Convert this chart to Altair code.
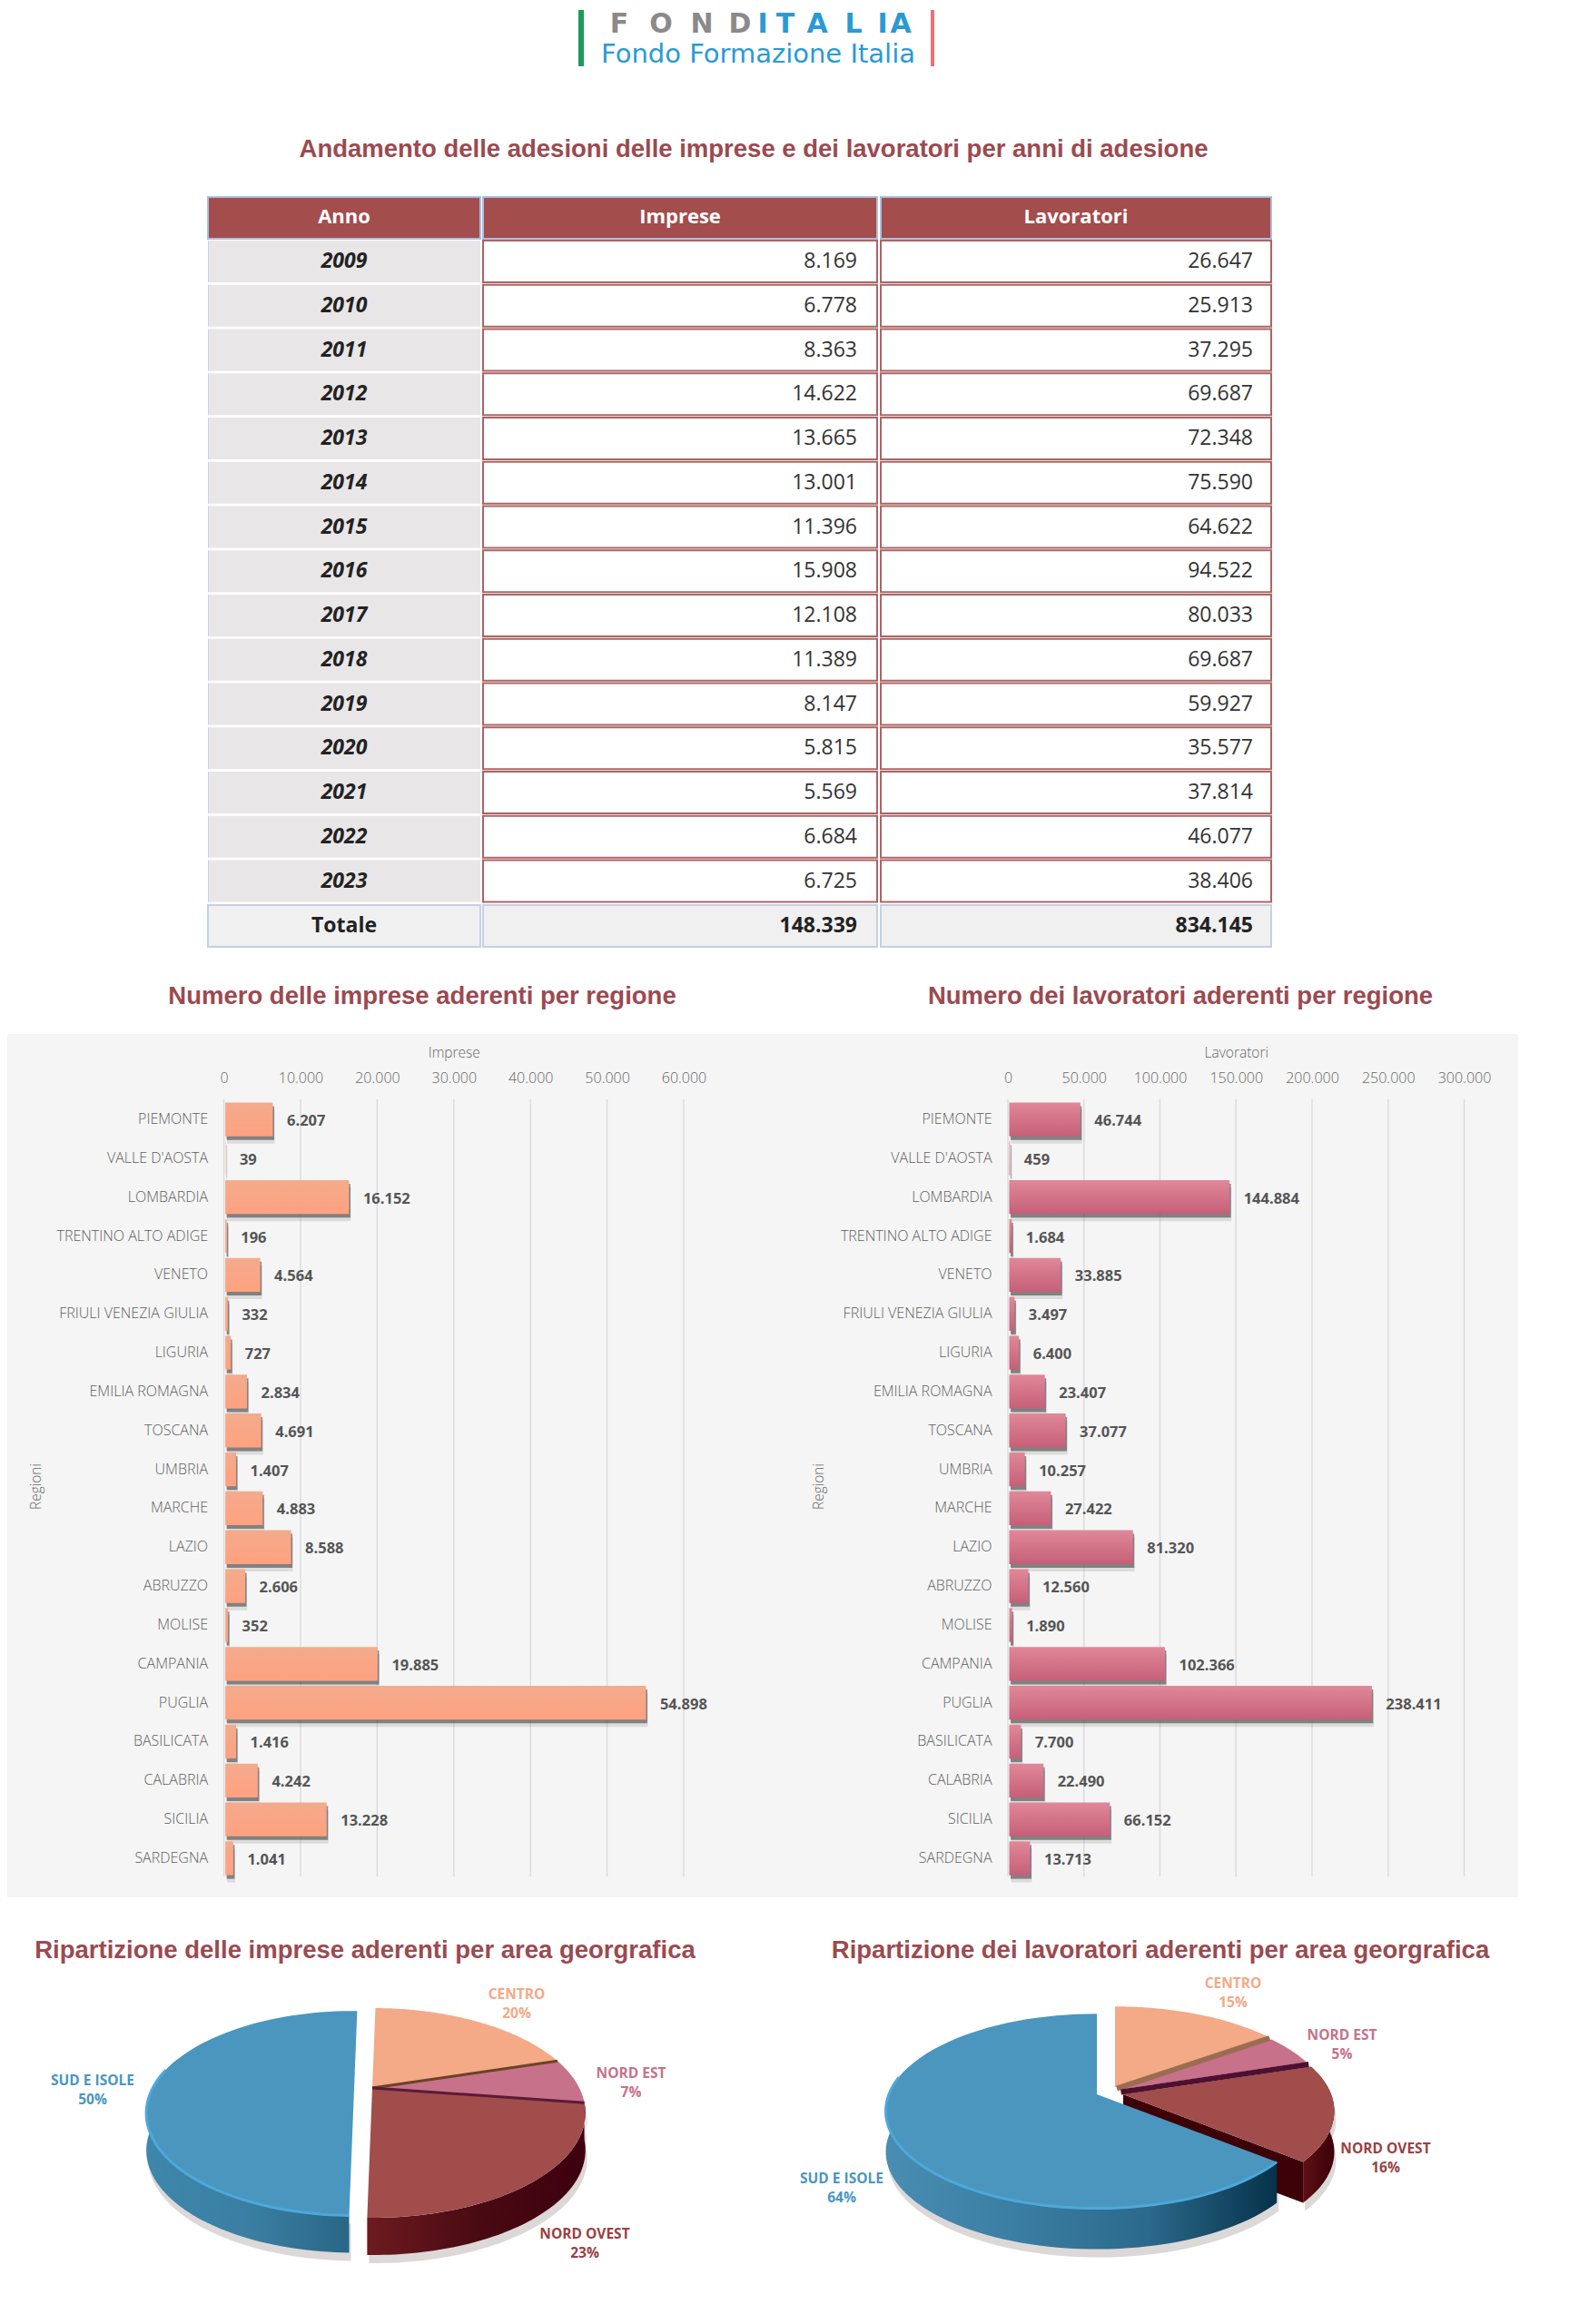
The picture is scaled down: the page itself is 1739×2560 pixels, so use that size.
import math
import altair as alt
import pandas as pd

# ---------- data ----------
ANNI = [2009, 2010, 2011, 2012, 2013, 2014, 2015, 2016, 2017, 2018, 2019, 2020, 2021, 2022, 2023]
IMPRESE_ANNO = [8169, 6778, 8363, 14622, 13665, 13001, 11396, 15908, 12108, 11389, 8147, 5815, 5569, 6684, 6725]
LAVORATORI_ANNO = [26647, 25913, 37295, 69687, 72348, 75590, 64622, 94522, 80033, 69687, 59927, 35577, 37814, 46077, 38406]
TOTALE = ["Totale", 148339, 834145]
REGIONI = ["PIEMONTE", "VALLE D'AOSTA", "LOMBARDIA", "TRENTINO ALTO ADIGE", "VENETO", "FRIULI VENEZIA GIULIA",
           "LIGURIA", "EMILIA ROMAGNA", "TOSCANA", "UMBRIA", "MARCHE", "LAZIO", "ABRUZZO", "MOLISE", "CAMPANIA",
           "PUGLIA", "BASILICATA", "CALABRIA", "SICILIA", "SARDEGNA"]
IMPRESE_REG = [6207, 39, 16152, 196, 4564, 332, 727, 2834, 4691, 1407, 4883, 8588, 2606, 352, 19885, 54898, 1416, 4242, 13228, 1041]
LAVORATORI_REG = [46744, 459, 144884, 1684, 33885, 3497, 6400, 23407, 37077, 10257, 27422, 81320, 12560, 1890, 102366, 238411, 7700, 22490, 66152, 13713]
AREE = ["CENTRO", "NORD EST", "NORD OVEST", "SUD E ISOLE"]
QUOTE_IMPRESE = [20, 7, 23, 50]
QUOTE_LAVORATORI = [15, 5, 16, 64]

TITLE_FONT = "Liberation Sans"
BODY_FONT = "Open Sans"
TITLE_COLOR = "#9b4a50"
TITLE_SIZE = 27.5


def it(n):
    return f"{n:,}".replace(",", ".")


def pxx(a, b):
    return alt.Scale(domain=[a, b], range=[0, b - a], nice=False, zero=False)


def pxy(a, b):
    return alt.Scale(domain=[a, b], range=[0, b - a], nice=False, zero=False)


def text_layer(rows, xs, ys, **mark):
    df = pd.DataFrame(rows, columns=["x", "y", "t"])
    mark.setdefault("font", BODY_FONT)
    mark.setdefault("baseline", "middle")
    return alt.Chart(df).mark_text(**mark).encode(
        x=alt.X("x:Q", scale=xs, axis=None), y=alt.Y("y:Q", scale=ys, axis=None), text="t:N")


# ---------- header + table ----------
HX, HY = pxx(8, 1731), pxy(8, 1139)
COLS = [(229, 529), (532, 966), (970, 1400)]
RIGHT = [None, 944, 1380]
ROW0, STEP, ROWH = 265, 48.75, 46


def rects(cells, **mark):
    df = pd.DataFrame(cells, columns=["x0", "x1", "y0", "y1"])
    return alt.Chart(df).mark_rect(**mark).encode(
        x=alt.X("x0:Q", scale=HX, axis=None), x2="x1:Q",
        y=alt.Y("y0:Q", scale=HY, axis=None), y2="y1:Q")


rows_y = [(ROW0 + i * STEP, ROW0 + i * STEP + ROWH) for i in range(len(ANNI))]
table = [
    rects([(c[0], c[1], 217, 263) for c in COLS], fill="#a34d4d", stroke="#a9c0e0", strokeWidth=2),
    rects([(COLS[0][0], COLS[0][1], a, b) for a, b in rows_y], fill="#e8e6e7"),
    rects([(COLS[0][0], COLS[0][0] + 1, a, b) for a, b in rows_y], fill="#c5d3ea"),
    rects([(c[0], c[1], a, b) for c in COLS[1:] for a, b in rows_y], fill="#ffffff", stroke="#ad6464", strokeWidth=2),
    rects([(c[0], c[1], 997, 1043) for c in COLS], fill="#f0f0f0", stroke="#c5d0e3", strokeWidth=2),
]
centers = [sum(c) / 2 for c in COLS]
header_texts = [
    text_layer([(centers[i], 238.5, n) for i, n in enumerate(["Anno", "Imprese", "Lavoratori"])], HX, HY,
               fontSize=22, fontWeight="bold", color="#ffffff", align="center"),
    text_layer([(centers[0], (a + b) / 2, str(y)) for y, (a, b) in zip(ANNI, rows_y)], HX, HY,
               fontSize=23, fontWeight="bold", fontStyle="italic", color="#222222", align="center"),
    text_layer([(RIGHT[1], (a + b) / 2, it(v)) for v, (a, b) in zip(IMPRESE_ANNO, rows_y)]
               + [(RIGHT[2], (a + b) / 2, it(v)) for v, (a, b) in zip(LAVORATORI_ANNO, rows_y)], HX, HY,
               fontSize=23, color="#333333", align="right"),
    text_layer([(centers[0], 1020, TOTALE[0])], HX, HY, fontSize=23, fontWeight="bold", color="#222222", align="center"),
    text_layer([(RIGHT[1], 1020, it(TOTALE[1])), (RIGHT[2], 1020, it(TOTALE[2]))], HX, HY,
               fontSize=23, fontWeight="bold", color="#222222", align="right"),
    text_layer([(830, 165, "Andamento delle adesioni delle imprese e dei lavoratori per anni di adesione")], HX, HY,
               font=TITLE_FONT, fontSize=TITLE_SIZE, fontWeight="bold", color=TITLE_COLOR, align="center"),
    text_layer([(465, 1097.5, "Numero delle imprese aderenti per regione")], HX, HY,
               font=TITLE_FONT, fontSize=TITLE_SIZE, fontWeight="bold", color=TITLE_COLOR, align="center"),
    text_layer([(1300, 1097.5, "Numero dei lavoratori aderenti per regione")], HX, HY,
               font=TITLE_FONT, fontSize=TITLE_SIZE, fontWeight="bold", color=TITLE_COLOR, align="center"),
]
LOGO_GREY = list(zip([682, 728, 773, 815], "FOND"))
LOGO_BLUE = list(zip([840, 865, 900, 940, 972, 992], "ITALIA"))
logo = [
    rects([(637, 643, 11, 73)], fill="#1f9a5b"),
    rects([(1025, 1029, 11, 73)], fill="#ec6f72"),
    text_layer([(x, 27, c) for x, c in LOGO_GREY], HX, HY, font="DejaVu Sans", fontWeight="bold", fontSize=30,
               color="#8a8a8a", align="center"),
    text_layer([(x, 27, c) for x, c in LOGO_BLUE], HX, HY, font="DejaVu Sans", fontWeight="bold", fontSize=30,
               color="#2a9ad4", align="center"),
    text_layer([(835, 60, "Fondo Formazione Italia")], HX, HY, font="DejaVu Sans", fontSize=29,
               color="#2a9ad4", align="center"),
]
header = alt.layer(*logo, *table, *header_texts).properties(width=1723, height=1131)


# ---------- bar panels ----------
def bar_panel(values, x_title, xmax, tick, x0, x1, width, stops, title_x):
    df = pd.DataFrame({"r": REGIONI, "v": values, "t": [it(v) for v in values]})
    ticks = pd.DataFrame({"v": list(range(0, xmax + 1, tick))})
    xs = alt.Scale(domain=[0, xmax], range=[x0, x1], nice=False, zero=False)
    ys = alt.Scale(domain=REGIONI, range=[72.6, 929.4], paddingInner=0.13, paddingOuter=0.065)
    ax_top = alt.Axis(orient="top", offset=-58, values=ticks["v"].tolist(), grid=False, ticks=False, domain=False,
                      title=x_title, titleFont=BODY_FONT, titleFontSize=15.5, titleFontWeight=300,
                      titleColor="#666666", titlePadding=12, labelFont=BODY_FONT, labelFontSize=16, labelFontWeight=300,
                      labelColor="#666666", labelPadding=2, labelFlush=False, labelOverlap=False,
                      labelExpr="replace(format(datum.value, ','), ',', '.')")
    ax_left = alt.Axis(orient="left", offset=-x0, ticks=False, domain=False, grid=False, title="Regioni",
                       titleFont=BODY_FONT, titleFontSize=15.5, titleFontWeight=300, titleColor="#666666",
                       titleX=title_x, titleY=498, labelFont=BODY_FONT, labelFontSize=16, labelFontWeight=300,
                       labelColor="#5e5e5e", labelPadding=18, labelLimit=400)
    X = alt.X("v:Q", scale=xs, axis=ax_top)
    Y = alt.Y("r:N", scale=ys, sort=REGIONI, axis=ax_left)
    grid = alt.Chart(ticks).mark_rule(color="#dcdcdc", strokeWidth=1.5).encode(
        x=X, y=alt.value(72), y2=alt.value(928))
    grad = alt.Gradient(gradient="linear", x1=0, y1=0, x2=0, y2=1,
                        stops=[alt.GradientStop(color=stops[0], offset=0), alt.GradientStop(color=stops[1], offset=1)])
    soft = alt.Chart(df).mark_bar(color="#777777", opacity=0.2, xOffset=3.5, yOffset=8).encode(x=X, y=Y)
    hard = alt.Chart(df).mark_bar(color="#444444", opacity=0.6, xOffset=3, yOffset=4).encode(x=X, y=Y)
    bars = alt.Chart(df).mark_bar(color=grad, xOffset=1.5).encode(x=X, y=Y)
    labels = alt.Chart(df).mark_text(align="left", baseline="middle", dx=17, dy=2, font=BODY_FONT, fontSize=16.5,
                                     fontWeight="bold", color="#555555").encode(x=X, y=Y, text="t:N")
    return alt.layer(grid, soft, hard, bars, labels).properties(
        width=width, height=951, view=alt.ViewBackground(fill="#f5f5f5"))


bars_l = bar_panel(IMPRESE_REG, "Imprese", 60000, 10000, 238.6, 745, 800, ("#f3ab8d", "#ffa17f"), -199)
bars_r = bar_panel(LAVORATORI_REG, "Lavoratori", 300000, 50000, 302, 804.5, 864, ("#e08899", "#c65f78"), -201)


# ---------- pies ----------
def pie_point(frac, g, thick=0.0, off=(0, 0)):
    t = 2 * math.pi * (frac + g["rot"])
    x, y = math.sin(t), math.cos(t)
    w = 1 + g["k"] * y
    return (g["cx"] + off[0] + g["S"] * x / w, g["cy"] + off[1] - g["c"] * y / w + thick)


def arc(f0, f1, g, thick=0.0, off=(0, 0), n=70):
    return [pie_point(f0 + (f1 - f0) * i / n, g, thick, off) for i in range(n + 1)]


def poly(points, xs, ys, **mark):
    df = pd.DataFrame(points, columns=["x", "y"])
    df["i"] = range(len(df))
    return alt.Chart(df).mark_line(filled=True, **mark).encode(
        x=alt.X("x:Q", scale=xs, axis=None), y=alt.Y("y:Q", scale=ys, axis=None), order="i:Q")


def stroke_line(points, xs, ys, **mark):
    df = pd.DataFrame(points, columns=["x", "y"])
    df["i"] = range(len(df))
    return alt.Chart(df).mark_line(**mark).encode(
        x=alt.X("x:Q", scale=xs, axis=None), y=alt.Y("y:Q", scale=ys, axis=None), order="i:Q")


def hgrad(*cols):
    n = len(cols) - 1
    return alt.Gradient(gradient="linear", x1=0, y1=0, x2=1, y2=0,
                        stops=[alt.GradientStop(color=c, offset=i / n) for i, c in enumerate(cols)])


TOP = {"CENTRO": "#f4a987", "NORD EST": "#c8718a", "NORD OVEST": "#a04d4b", "SUD E ISOLE": "#4a96bf"}
TXT = {"CENTRO": "#f4a987", "NORD EST": "#c8718a", "NORD OVEST": "#9b3f44", "SUD E ISOLE": "#4a96bf"}


def pie_panel(shares, g, off, order, walls, seams, seam_w, cut, title, title_x, lab, x0, width, shrink=None):
    xs, ys = pxx(x0, x0 + width), pxy(2090, 2552)
    total = sum(shares)
    spans, acc = {}, 0
    for a, s in zip(AREE, shares):
        spans[a] = (acc / total, (acc + s) / total)
        acc += s
    T = g["T"]
    shadows, layers = [], []
    for a in order:
        f0, f1 = spans[a]
        o = off[a]
        m = (shrink or {}).get(a, 1)
        gs = {**g, "S": g["S"] * m, "c": g["c"] * m}
        apex = (g["cx"] + o[0], g["cy"] + o[1])
        top = [apex] + arc(f0, f1, gs, 0, o)
        w0, w1 = max(f0, 0.2), min(f1, 0.8)
        wall = arc(w0, w1, gs, 0, o) + arc(w1, w0, gs, T, o)
        if a in walls:
            shadows.append(poly([(x + 2, y + 9) for x, y in wall], xs, ys, fill="#dcd8d8"))
            layers.append(poly(wall, xs, ys, fill=hgrad(*walls[a])))
        if a in cut:
            e = pie_point(f1, gs, 0, o)
            layers.append(poly([apex, e, (e[0], e[1] + T), (apex[0], apex[1] + T)], xs, ys, fill=cut[a]))
        layers.append(poly(top, xs, ys, fill=TOP[a]))
        if a == "SUD E ISOLE":
            layers.append(stroke_line(arc(max(f0, 0.36), 0.78, gs, 0, o), xs, ys, stroke="#4ea8da", strokeWidth=3))
    for i, col in seams:
        f = spans[AREE[i]][1]
        a0, a1 = off[AREE[i]], off[AREE[i + 1]]
        o = ((a0[0] + a1[0]) / 2, (a0[1] + a1[1]) / 2)
        layers.append(stroke_line([(g["cx"] + o[0], g["cy"] + o[1]), pie_point(f, g, 0, o)], xs, ys,
                                  stroke=col, strokeWidth=seam_w))
    labels = []
    for a, s in zip(AREE, shares):
        x, y = lab[a]
        labels.append(text_layer([(x, y, a), (x, y + 21, f"{s}%")], xs, ys, fontSize=15.5, fontWeight="bold",
                                 color=TXT[a], align="center"))
    head = text_layer([(title_x, 2149, title)], xs, ys, font=TITLE_FONT, fontSize=TITLE_SIZE, fontWeight="bold",
                      color=TITLE_COLOR, align="center")
    return alt.layer(*shadows, *layers, *labels, head).properties(width=width, height=462)


G_L = dict(cx=410, cy=2300, S=228, c=109, k=0.238, rot=0.003, T=41)
OFF_L = {"CENTRO": (0, 0), "NORD EST": (0, 0), "NORD OVEST": (0, 0), "SUD E ISOLE": (-20, 1)}
pie_l = pie_panel(
    QUOTE_IMPRESE, G_L, OFF_L, ["SUD E ISOLE", "NORD OVEST", "NORD EST", "CENTRO"],
    {"SUD E ISOLE": ("#3f86ab", "#3a7fa3", "#2a6686"), "NORD OVEST": ("#6d1b1f", "#4a0a12", "#3d0010")},
    [(0, "#6b4326"), (1, "#5a1a38")], 3, {}, "Ripartizione delle imprese aderenti per area georgrafica",
    402, {"CENTRO": (569, 2197), "NORD EST": (695, 2284), "NORD OVEST": (644, 2461), "SUD E ISOLE": (102, 2292)}, 8, 842,
    shrink={"SUD E ISOLE": 0.975})

G_R = dict(cx=1228, cy=2299, S=229, c=104, k=0.172, rot=0.0, T=45)
OFF_R = {"CENTRO": (0, 0), "NORD EST": (4, 3), "NORD OVEST": (9, 8), "SUD E ISOLE": (-20, 8)}
pie_r = pie_panel(
    QUOTE_LAVORATORI, G_R, OFF_R, ["NORD OVEST", "NORD EST", "CENTRO", "SUD E ISOLE"],
    {"SUD E ISOLE": ("#4a8db3", "#3b7ea3", "#2b6a8c", "#06324a"), "NORD OVEST": ("#5e1016", "#3a0008")},
    [(0, "#9a6d50"), (1, "#4d1030")], 6, {"NORD OVEST": "#3d0208"},
    "Ripartizione dei lavoratori aderenti per area georgrafica",
    1278, {"CENTRO": (1358, 2185), "NORD EST": (1478, 2242), "NORD OVEST": (1526, 2367), "SUD E ISOLE": (927, 2400)}, 850, 881)

chart = alt.vconcat(
    header,
    alt.hconcat(bars_l, bars_r, spacing=0),
    alt.hconcat(pie_l, pie_r, spacing=0),
    spacing=0,
).properties(padding=0, background="#ffffff").configure_view(strokeWidth=0)

chart.save("out.html", embed_options={"renderer": "svg", "actions": False})
